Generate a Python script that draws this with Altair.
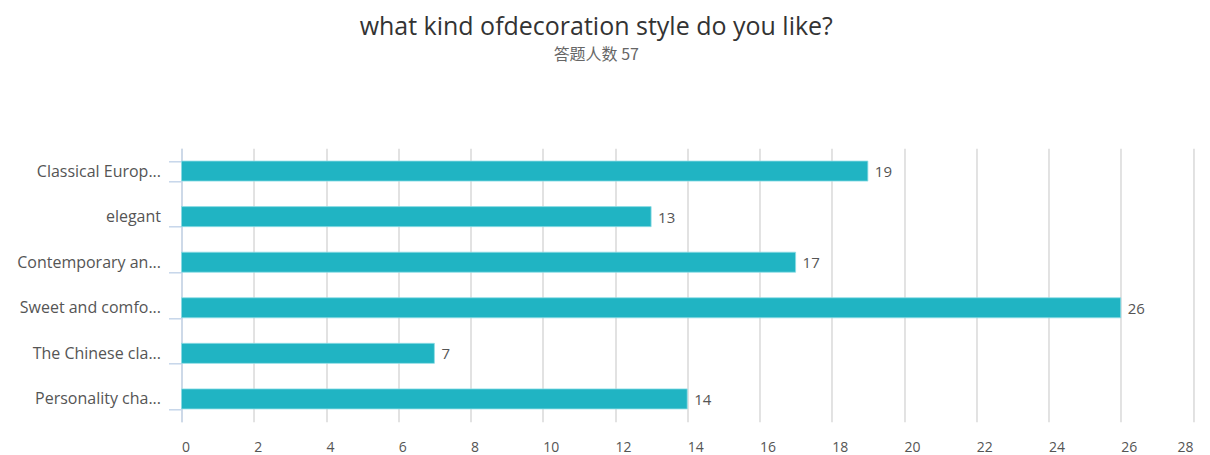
import altair as alt
import pandas as pd

categories = ["Classical Europ...", "elegant", "Contemporary an...", "Sweet and comfo...",
              "The Chinese cla...", "Personality cha..."]
counts = [19, 13, 17, 26, 7, 14]
x_ticks = list(range(0, 29, 2))

df = pd.DataFrame({"style": categories, "count": counts})

FONT = "Open Sans"
y_enc = alt.Y("style:N", sort=categories, title=None,
              scale=alt.Scale(paddingInner=0.56, paddingOuter=0.28),
              axis=alt.Axis(tickBand="extent", domainColor="#c6d6ea", tickColor="#c6d6ea",
                            domainWidth=1.5, tickWidth=1.5,
                            tickSize=13, labelPadding=8, labelFontSize=16, labelColor="#555555",
                            labelFont=FONT, grid=False, labelLimit=220))
x_enc = alt.X("count:Q", title=None,
              scale=alt.Scale(domain=[0, 28], nice=False),
              axis=alt.Axis(values=x_ticks, domain=False, ticks=False, grid=True,
                            gridColor="#d9d9d9", gridWidth=1.5, labelPadding=19,
                            labelAlign=alt.ExprRef(expr="datum.value >= 28 ? 'right' : 'left'"),
                            labelFontSize=14, labelColor="#555555", labelFont=FONT))

bars = alt.Chart(df).mark_bar(color="#20b4c3", stroke="#8fdde6", strokeWidth=0.8).encode(
    x=x_enc, y=y_enc)
labels = alt.Chart(df).mark_text(align="left", dx=7, dy=1, fontSize=15, color="#555555", font=FONT).encode(
    x="count:Q", y=alt.Y("style:N", sort=categories), text="count:Q")

chart = (bars + labels).properties(
    width=1011.5, height=273.4,
    title=alt.TitleParams(text="what kind ofdecoration style do you like?",
                          subtitle="答题人数 57", anchor="middle", dx=-91, offset=77,
                          fontSize=25, font=FONT, fontWeight="normal", color="#333333",
                          subtitleFont="Noto Sans CJK SC", subtitleFontSize=16,
                          subtitleColor="#666666", subtitlePadding=7),
    autosize=alt.AutoSizeParams(type="none"),
    padding={"left": 173.5, "top": 140.3, "right": 5, "bottom": 38},
).configure_view(stroke=None)

chart.save("out.html", embed_options={"renderer": "svg", "actions": False})
